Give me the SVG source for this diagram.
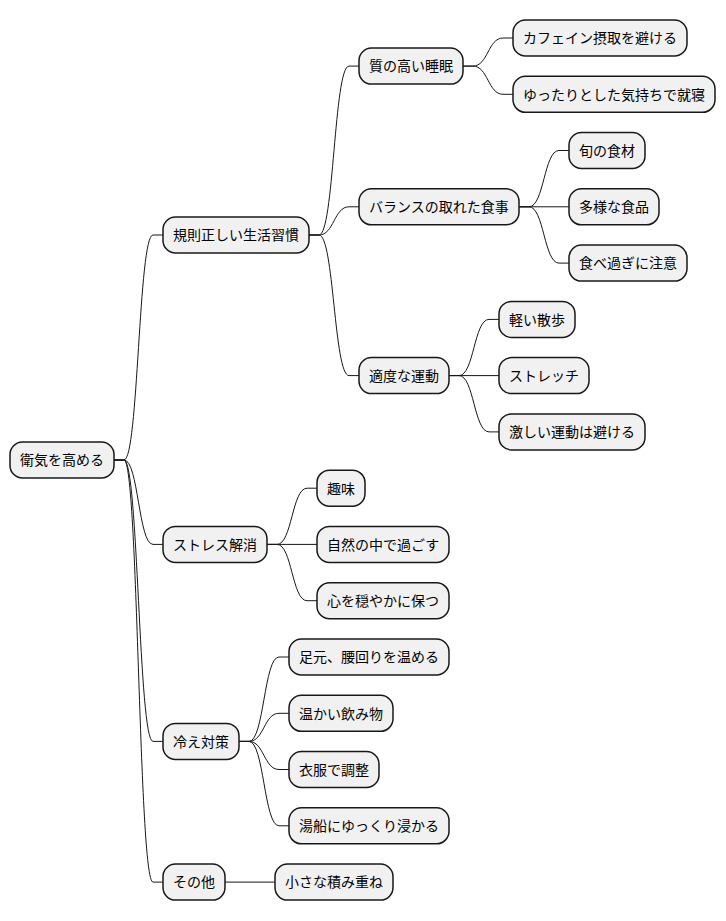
<svg xmlns="http://www.w3.org/2000/svg" width="726" height="921" viewBox="0 0 726 921">
<style>
.n rect{fill:#F1F1F1;stroke:#181818;stroke-width:1.5}
.n text{font-family:"Noto Sans CJK JP","Noto Sans",sans-serif;font-size:14px;fill:#000}
#edges path{fill:none;stroke:#181818;stroke-width:1}
</style>
<rect width="726" height="921" fill="#FFFFFF"/>
<g id="edges">
<path d="M114,460 L124,460 C138.5,460 138.5,235 153,235 L163,235"/>
<path d="M114,460 L124,460 C138.5,460 138.5,544.4 153,544.4 L163,544.4"/>
<path d="M114,460 L124,460 C138.5,460 138.5,741.4 153,741.4 L163,741.4"/>
<path d="M114,460 L124,460 C138.5,460 138.5,882.1 153,882.1 L163,882.1"/>
<path d="M309,235 L319,235 C334,235 334,66.1 349,66.1 L359,66.1"/>
<path d="M309,235 L319,235 C334,235 334,206.8 349,206.8 L359,206.8"/>
<path d="M309,235 L319,235 C334,235 334,375.6 349,375.6 L359,375.6"/>
<path d="M463,66.1 L473,66.1 C488,66.1 488,38 503,38 L513,38"/>
<path d="M463,66.1 L473,66.1 C488,66.1 488,94.3 503,94.3 L513,94.3"/>
<path d="M519,206.8 L529,206.8 C544,206.8 544,150.5 559,150.5 L569,150.5"/>
<path d="M519,206.8 L569,206.8"/>
<path d="M519,206.8 L529,206.8 C544,206.8 544,263.1 559,263.1 L569,263.1"/>
<path d="M449,375.6 L459,375.6 C474,375.6 474,319.4 489,319.4 L499,319.4"/>
<path d="M449,375.6 L499,375.6"/>
<path d="M449,375.6 L459,375.6 C474,375.6 474,431.9 489,431.9 L499,431.9"/>
<path d="M267,544.4 L277,544.4 C292,544.4 292,488.2 307,488.2 L317,488.2"/>
<path d="M267,544.4 L317,544.4"/>
<path d="M267,544.4 L277,544.4 C292,544.4 292,600.7 307,600.7 L317,600.7"/>
<path d="M239,741.4 L249,741.4 C264,741.4 264,657 279,657 L289,657"/>
<path d="M239,741.4 L249,741.4 C264,741.4 264,713.3 279,713.3 L289,713.3"/>
<path d="M239,741.4 L249,741.4 C264,741.4 264,769.5 279,769.5 L289,769.5"/>
<path d="M239,741.4 L249,741.4 C264,741.4 264,825.8 279,825.8 L289,825.8"/>
<path d="M225,882.1 L275,882.1"/>
</g>
<g id="root" class="n"><rect x="10" y="442" width="104" height="36" rx="12.5"/><text x="20" y="465.3">衛気を高める</text></g>
<g id="n1" class="n"><rect x="163" y="217" width="146" height="36" rx="12.5"/><text x="173" y="240.3">規則正しい生活習慣</text></g>
<g id="n11" class="n"><rect x="359" y="48.1" width="104" height="36" rx="12.5"/><text x="369" y="71.4">質の高い睡眠</text></g>
<g id="n111" class="n"><rect x="513" y="20" width="174" height="36" rx="12.5"/><text x="523" y="43.3">カフェイン摂取を避ける</text></g>
<g id="n112" class="n"><rect x="513" y="76.3" width="202" height="36" rx="12.5"/><text x="523" y="99.6">ゆったりとした気持ちで就寝</text></g>
<g id="n12" class="n"><rect x="359" y="188.8" width="160" height="36" rx="12.5"/><text x="369" y="212.1">バランスの取れた食事</text></g>
<g id="n121" class="n"><rect x="569" y="132.5" width="76" height="36" rx="12.5"/><text x="579" y="155.8">旬の食材</text></g>
<g id="n122" class="n"><rect x="569" y="188.8" width="90" height="36" rx="12.5"/><text x="579" y="212.1">多様な食品</text></g>
<g id="n123" class="n"><rect x="569" y="245.1" width="118" height="36" rx="12.5"/><text x="579" y="268.4">食べ過ぎに注意</text></g>
<g id="n13" class="n"><rect x="359" y="357.6" width="90" height="36" rx="12.5"/><text x="369" y="380.9">適度な運動</text></g>
<g id="n131" class="n"><rect x="499" y="301.4" width="76" height="36" rx="12.5"/><text x="509" y="324.7">軽い散歩</text></g>
<g id="n132" class="n"><rect x="499" y="357.6" width="90" height="36" rx="12.5"/><text x="509" y="380.9">ストレッチ</text></g>
<g id="n133" class="n"><rect x="499" y="413.9" width="146" height="36" rx="12.5"/><text x="509" y="437.2">激しい運動は避ける</text></g>
<g id="n2" class="n"><rect x="163" y="526.4" width="104" height="36" rx="12.5"/><text x="173" y="549.7">ストレス解消</text></g>
<g id="n21" class="n"><rect x="317" y="470.2" width="48" height="36" rx="12.5"/><text x="327" y="493.5">趣味</text></g>
<g id="n22" class="n"><rect x="317" y="526.4" width="132" height="36" rx="12.5"/><text x="327" y="549.7">自然の中で過ごす</text></g>
<g id="n23" class="n"><rect x="317" y="582.7" width="132" height="36" rx="12.5"/><text x="327" y="606">心を穏やかに保つ</text></g>
<g id="n3" class="n"><rect x="163" y="723.4" width="76" height="36" rx="12.5"/><text x="173" y="746.7">冷え対策</text></g>
<g id="n31" class="n"><rect x="289" y="639" width="160" height="36" rx="12.5"/><text x="299" y="662.3">足元、腰回りを温める</text></g>
<g id="n32" class="n"><rect x="289" y="695.3" width="104" height="36" rx="12.5"/><text x="299" y="718.6">温かい飲み物</text></g>
<g id="n33" class="n"><rect x="289" y="751.5" width="90" height="36" rx="12.5"/><text x="299" y="774.8">衣服で調整</text></g>
<g id="n34" class="n"><rect x="289" y="807.8" width="160" height="36" rx="12.5"/><text x="299" y="831.1">湯船にゆっくり浸かる</text></g>
<g id="n4" class="n"><rect x="163" y="864.1" width="62" height="36" rx="12.5"/><text x="173" y="887.4">その他</text></g>
<g id="n41" class="n"><rect x="275" y="864.1" width="118" height="36" rx="12.5"/><text x="285" y="887.4">小さな積み重ね</text></g>
</svg>
